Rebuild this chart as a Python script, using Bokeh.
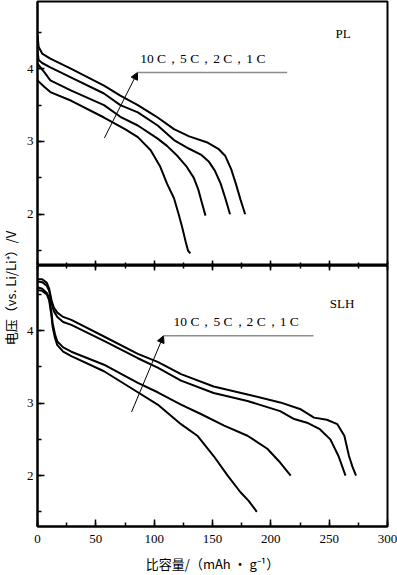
from math import pi
from bokeh.plotting import figure
from bokeh.layouts import row, column
from bokeh.models import (Arrow, NormalHead, SingleIntervalTicker, Range1d,
                          LinearAxis, Label, CustomJSTickFormatter)
from bokeh.core.properties import value
from bokeh.embed import file_html
from bokeh.resources import INLINE

# ---------------- data ----------------
# PL panel (specific capacity mAh/g, voltage V)
pl_1c_x = [0, 1, 4, 11, 29, 57, 71, 86, 97, 103, 117, 130, 145, 155, 161, 166, 170, 174, 178]
pl_1c_v = [4.46, 4.30, 4.21, 4.14, 4.00, 3.77, 3.63, 3.50, 3.39, 3.33, 3.17, 3.07, 2.99, 2.90, 2.80, 2.62, 2.42, 2.20, 2.00]
pl_2c_x = [0, 1, 4, 11, 29, 57, 71, 86, 103, 117, 130, 140, 147, 152, 157, 161, 165]
pl_2c_v = [4.25, 4.12, 4.08, 4.02, 3.88, 3.66, 3.50, 3.40, 3.22, 3.02, 2.90, 2.82, 2.72, 2.60, 2.42, 2.22, 2.00]
pl_5c_x = [0, 6, 11, 29, 57, 71, 86, 103, 111, 120, 128, 134, 138, 141, 144]
pl_5c_v = [4.07, 3.95, 3.84, 3.70, 3.50, 3.34, 3.22, 3.04, 2.94, 2.80, 2.65, 2.50, 2.33, 2.15, 1.98]
pl_10c_x = [0, 6, 11, 29, 57, 75, 86, 97, 105, 111, 117, 121, 124, 127, 129, 131]
pl_10c_v = [3.84, 3.75, 3.68, 3.56, 3.33, 3.17, 3.06, 2.88, 2.66, 2.42, 2.22, 2.00, 1.82, 1.62, 1.50, 1.46]

# SLH panel
slh_1c_x = [0, 4, 8, 10, 12, 14, 17, 22, 29, 57, 86, 103, 123, 151, 180, 208, 225, 237, 248, 257, 263, 267, 270, 273]
slh_1c_v = [4.71, 4.71, 4.66, 4.58, 4.42, 4.32, 4.25, 4.19, 4.15, 3.92, 3.68, 3.57, 3.40, 3.23, 3.12, 3.01, 2.92, 2.80, 2.77, 2.71, 2.55, 2.27, 2.12, 2.00]
slh_2c_x = [0, 4, 8, 10, 12, 14, 17, 22, 29, 57, 86, 103, 123, 151, 180, 208, 220, 231, 242, 251, 258, 264]
slh_2c_v = [4.68, 4.67, 4.62, 4.55, 4.38, 4.27, 4.19, 4.12, 4.08, 3.86, 3.62, 3.49, 3.31, 3.14, 3.03, 2.89, 2.78, 2.73, 2.64, 2.50, 2.27, 2.00]
slh_5c_x = [0, 4, 8, 10, 12, 13, 15, 17, 22, 29, 57, 86, 103, 123, 140, 160, 180, 197, 208, 217]
slh_5c_v = [4.60, 4.58, 4.52, 4.45, 4.25, 4.10, 3.95, 3.85, 3.77, 3.71, 3.53, 3.28, 3.15, 2.98, 2.85, 2.69, 2.55, 2.37, 2.18, 2.00]
slh_10c_x = [0, 4, 8, 10, 12, 13, 15, 17, 22, 29, 57, 86, 103, 123, 137, 151, 163, 174, 181, 188]
slh_10c_v = [4.56, 4.55, 4.50, 4.42, 4.20, 4.05, 3.90, 3.80, 3.71, 3.65, 3.44, 3.15, 2.98, 2.71, 2.55, 2.27, 2.00, 1.77, 1.65, 1.50]

rate_text = "10 C，5 C，2 C，1 C"
panel_names = ["PL", "SLH"]
x_label = "比容量/（mAh • g⁻¹）"
y_label = "电压（vs. Li/Li⁺）/V"

SERIF = "Liberation Serif"
CJK = "Noto Sans CJK SC"

xr = Range1d(0, 300)


def style_axis(ax, tin=7, minin=4):
    ax.axis_line_width = 2
    ax.axis_line_color = "black"
    ax.major_tick_in = tin
    ax.major_tick_out = 0
    ax.minor_tick_in = minin
    ax.minor_tick_out = 0
    ax.major_tick_line_width = 1.5
    ax.minor_tick_line_width = 1.5
    ax.major_tick_line_color = "black"
    ax.minor_tick_line_color = "black"
    ax.major_label_text_font = SERIF
    ax.major_label_text_font_size = "13px"
    ax.major_label_text_color = "black"


def blank_labels(ax):
    ax.formatter = CustomJSTickFormatter(code="return ''")
    ax.major_label_standoff = 0


def make_panel(height, top, bottom, yr):
    p = figure(width=375, height=height, x_range=xr, y_range=Range1d(*yr),
               output_backend="svg", toolbar_location=None,
               min_border_left=15, min_border_right=10,
               min_border_top=top, min_border_bottom=bottom)
    p.grid.visible = False
    p.outline_line_color = "black"
    p.outline_line_width = 2
    p.outline_line_alpha = 1
    p.xaxis.ticker = SingleIntervalTicker(interval=50, num_minor_ticks=2)
    p.yaxis.ticker = SingleIntervalTicker(interval=1, num_minor_ticks=2)
    for ax in p.xaxis + p.yaxis:
        style_axis(ax)
    p.yaxis.major_label_standoff = 4
    p.yaxis.major_label_orientation = "horizontal"
    return p


def draw(p, curves):
    for xs, vs in curves:
        p.line(xs, vs, line_color="black", line_width=2, line_join="round")


def annotate(p, tail, head, line_end, text_pos, name_pos, name):
    p.add_layout(Arrow(end=NormalHead(size=7, fill_color="black", line_color="black", line_width=1),
                       x_start=tail[0], y_start=tail[1], x_end=head[0], y_end=head[1],
                       line_color="black", line_width=1))
    p.add_layout(Arrow(end=None, x_start=head[0], y_start=head[1], x_end=line_end, y_end=head[1],
                       line_color="#8c8c8c", line_width=1.5))
    p.add_layout(Label(x=text_pos[0], y=text_pos[1], text=rate_text, text_font=SERIF,
                       text_font_size="13.5px", text_color="black", text_baseline="bottom"))
    p.add_layout(Label(x=name_pos[0], y=name_pos[1], text=name, text_font=SERIF,
                       text_font_size="13px", text_color="black", text_align="center",
                       text_baseline="middle"))


# ---------------- top panel (PL) ----------------
p1 = make_panel(265, 1, 0, (1.294, 4.926))
style_axis(p1.xaxis[0], tin=5, minin=3)
blank_labels(p1.xaxis[0])
draw(p1, [(pl_1c_x, pl_1c_v), (pl_2c_x, pl_2c_v), (pl_5c_x, pl_5c_v), (pl_10c_x, pl_10c_v)])
annotate(p1, (57.4, 3.05), (85.7, 3.95), 214, (88, 4.035), (262, 4.49), panel_names[0])

# ---------------- bottom panel (SLH) ----------------
p2 = make_panel(310, 0, 47, (1.297, 4.90))
p2.xaxis.major_label_standoff = 8
p2.xaxis.axis_label = x_label
p2.xaxis.axis_label_text_font = CJK
p2.xaxis.axis_label_text_font_style = "normal"
p2.xaxis.axis_label_text_font_size = "13px"
p2.xaxis.axis_label_text_color = "black"
p2.xaxis.axis_label_standoff = 8
top_ax = LinearAxis(ticker=SingleIntervalTicker(interval=50, num_minor_ticks=2))
style_axis(top_ax, tin=5, minin=3)
blank_labels(top_ax)
p2.add_layout(top_ax, "above")
draw(p2, [(slh_1c_x, slh_1c_v), (slh_2c_x, slh_2c_v), (slh_5c_x, slh_5c_v), (slh_10c_x, slh_10c_v)])
annotate(p2, (80.6, 2.877), (108, 3.93), 236.6, (116.6, 4.02), (261, 4.38), panel_names[1])

# ---------------- y-axis title column ----------------
pl = figure(width=22, height=575, x_range=(0, 1), y_range=(0, 1),
            output_backend="svg", toolbar_location=None, min_border=0)
pl.axis.visible = False
pl.grid.visible = False
pl.outline_line_color = None
pl.text(x=[0.47], y=[0.5], text=[y_label], angle=pi / 2, text_align="center",
        text_baseline="middle", text_font=value(CJK), text_font_size="13px",
        text_color="black")

layout = row(pl, column(p1, p2))

with open("out.html", "w") as f:
    f.write(file_html(layout, INLINE))
